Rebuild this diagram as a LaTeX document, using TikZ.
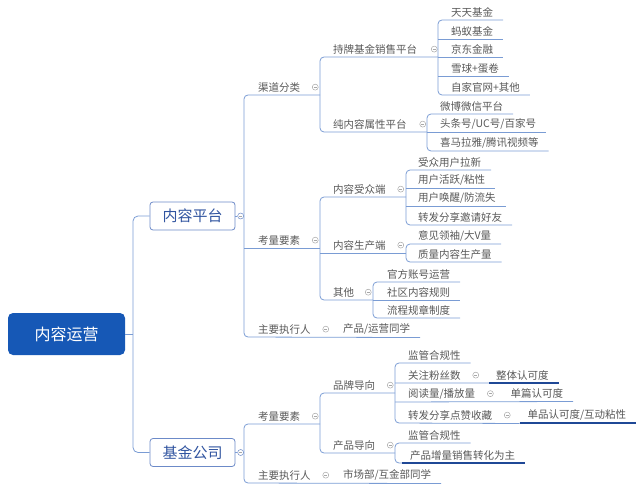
\documentclass[tikz,border=0pt]{standalone}
\usepackage{fontspec}
\setmainfont{Noto Sans CJK SC}
\usetikzlibrary{positioning}
\definecolor{linec}{RGB}{122,156,212}
\definecolor{hilinec}{RGB}{31,72,150}
\definecolor{rootc}{RGB}{22,88,182}
\definecolor{boxc}{RGB}{108,138,200}
\definecolor{boxtext}{RGB}{48,84,160}
\definecolor{textc}{RGB}{88,88,88}
\definecolor{foldc}{RGB}{168,168,168}
\tikzset{
  topic/.style={anchor=south west,inner xsep=0pt,inner ysep=3pt,outer sep=0pt,
    font=\fontsize{10.5}{12}\selectfont,text=textc},
  fold/.style={circle,draw=foldc,fill=white,line width=0.5pt,minimum size=6pt,inner sep=0pt,
    path picture={\draw[foldc,line width=0.5pt] ([xshift=-1.6pt]path picture bounding box.center)
      -- ([xshift=1.6pt]path picture bounding box.center);}},
  ln/.style={draw=linec,line width=0.8pt},
  hiline/.style={draw=hilinec,line width=2pt},
  branch/.style={draw=boxc,fill=white,rounded corners=3pt,line width=0.8pt,minimum width=85pt,
    minimum height=28pt,text=boxtext,font=\fontsize{15}{17}\selectfont}
}
\begin{document}
\begin{tikzpicture}[x=1pt,y=-1pt]
\useasboundingbox (0,0) rectangle (640,492);
% the root and the two branches
\node[fill=rootc,rounded corners=5pt,minimum width=117pt,minimum height=42pt,text=white,
  font=\fontsize{16}{18}\selectfont] (root) at (66.5,334) {内容运营};
\node[branch] (kp) at (192.5,216) {内容平台};
\node[branch] (jj) at (192.5,452.5) {基金公司};
\node[fold,draw=boxc,right=2pt of kp] (kpF) {};
\node[fold,draw=boxc,right=2pt of jj] (jjF) {};
\coordinate (rootV) at (133,334);
\draw[ln,rounded corners=5pt] (kp.west) -| (rootV) |- (jj.west);
\draw[ln] (root.east) -- (rootV);
\draw[ln] (kp.east) -- (kpF);
\draw[ln] (jj.east) -- (jjF);
% the verticals of each group
\coordinate (kpV) at (244,216);
\coordinate (qdV) at (320,95);
\coordinate (klV) at (320,248);
\coordinate (cpV) at (438,57);
\coordinate (cnV) at (427,132);
\coordinate (szV) at (406,197);
\coordinate (scV) at (406,253);
\coordinate (qtV) at (373,300);
\coordinate (jjV) at (244,452);
\coordinate (fkV) at (320,424);
\coordinate (ppV) at (395,393);
\coordinate (cdV) at (395,453);
% content platform
\node[topic] (qd) at (258,95) {渠道分类};
\node[topic] (kl) at (258,248) {考量要素};
\node[topic] (zy) at (258,337) {主要执行人};
\node[fold,right=12pt of qd] (qdF) {};
\node[fold,right=12pt of kl] (klF) {};
\node[fold,right=12pt of zy] (zyF) {};
\node[topic,right=14pt of zyF] (cy) {产品/运营同学};
\draw[ln,rounded corners=4pt] (qdV) -- (kpV |- qd.south) -- (kpV |- zy.south) -- ([xshift=10pt]cy.south east);
\draw[ln] (kpV |- kl.south) -- (klV);
% channels
\node[topic] (cp) at (333,57) {持牌基金销售平台};
\node[topic] (cn) at (333,132) {纯内容属性平台};
\node[fold,right=14pt of cp] (cpF) {};
\node[fold,right=13pt of cn] (cnF) {};
\draw[ln,rounded corners=4pt] (cpV) -- (qdV |- cp.south) -- (qdV |- cn.south) -- (cnV);
\node[topic] (tt) at (451,20) {天天基金};
\node[topic] (my) at (451,39) {蚂蚁基金};
\node[topic] (jd) at (451,57) {京东金融};
\node[topic] (xq) at (451,76) {雪球+蛋卷};
\node[topic] (zj) at (451,95) {自家官网+其他};
\draw[ln,rounded corners=4pt] ([xshift=10pt]tt.south east) -- (cpV |- tt.south) -- (cpV |- zj.south) -- ([xshift=10pt]zj.south east);
\foreach \n in {my,jd,xq}
  \draw[ln] (cpV |- \n.south) -- ([xshift=10pt]\n.south east);
\node[topic] (wb) at (440,114) {微博微信平台};
\node[topic] (tx) at (440,132) {头条号/UC号/百家号};
\node[topic] (xm) at (440,151) {喜马拉雅/腾讯视频等};
\draw[ln,rounded corners=4pt] ([xshift=10pt]wb.south east) -- (cnV |- wb.south) -- (cnV |- xm.south) -- ([xshift=10pt]xm.south east);
\draw[ln] (cnV |- tx.south) -- ([xshift=10pt]tx.south east);
% factors of the content platform
\node[topic] (sz) at (333,197) {内容受众端};
\node[topic] (sc) at (333,253) {内容生产端};
\node[topic] (qt) at (333,300) {其他};
\node[fold,right=12pt of sz] (szF) {};
\node[fold,right=12pt of sc] (scF) {};
\node[fold,right=11pt of qt] (qtF) {};
\draw[ln,rounded corners=4pt] (szV) -- (klV |- sz.south) -- (klV |- qt.south) -- (qtV);
\draw[ln] (klV |- sc.south) -- (scV);
\node[topic] (lx) at (418,170) {受众用户拉新};
\node[topic] (hy) at (418,188) {用户活跃/粘性};
\node[topic] (hx) at (418,206) {用户唤醒/防流失};
\node[topic] (zf) at (418,225) {转发分享邀请好友};
\draw[ln,rounded corners=4pt] ([xshift=10pt]lx.south east) -- (szV |- lx.south) -- (szV |- zf.south) -- ([xshift=10pt]zf.south east);
\foreach \n in {hy,hx}
  \draw[ln] (szV |- \n.south) -- ([xshift=10pt]\n.south east);
\node[topic] (yj) at (418,244) {意见领袖/大V量};
\node[topic] (zl) at (418,262) {质量内容生产量};
\draw[ln,rounded corners=4pt] ([xshift=10pt]yj.south east) -- (scV |- yj.south) -- (scV |- zl.south) -- ([xshift=10pt]zl.south east);
\node[topic] (gf) at (387,282) {官方账号运营};
\node[topic] (sq) at (387,300) {社区内容规则};
\node[topic] (lc) at (387,318) {流程规章制度};
\draw[ln,rounded corners=4pt] ([xshift=10pt]gf.south east) -- (qtV |- gf.south) -- (qtV |- lc.south) -- ([xshift=10pt]lc.south east);
\draw[ln] (qtV |- sq.south) -- ([xshift=10pt]sq.south east);
% fund company
\node[topic] (fk) at (258,424) {考量要素};
\node[topic] (fz) at (258,483) {主要执行人};
\node[fold,right=12pt of fk] (fkF) {};
\node[fold,right=12pt of fz] (fzF) {};
\node[topic,right=14pt of fzF] (sb) {市场部/互金部同学};
\draw[ln,rounded corners=4pt] (fkV) -- (jjV |- fk.south) -- (jjV |- fz.south) -- ([xshift=10pt]sb.south east);
\node[topic] (pp) at (333,393) {品牌导向};
\node[topic] (cd) at (333,453) {产品导向};
\node[fold,right=12pt of pp] (ppF) {};
\node[fold,right=12pt of cd] (cdF) {};
\draw[ln,rounded corners=4pt] (ppV) -- (fkV |- pp.south) -- (fkV |- cd.south) -- (cdV);
% brand side
\node[topic] (jg) at (408,363) {监管合规性};
\node[topic] (gz) at (408,383) {关注粉丝数};
\node[topic] (yd) at (408,402) {阅读量/播放量};
\node[topic] (zs) at (408,423) {转发分享点赞收藏};
\node[fold,right=12pt of gz] (gzF) {};
\node[fold,right=12pt of yd] (ydF) {};
\node[fold,right=12pt of zs] (zsF) {};
\node[topic,right=17pt of gzF] (zt) {整体认可度};
\node[topic,right=17pt of ydF] (dp) {单篇认可度};
\node[topic,right=17pt of zsF] (dr) {单品认可度/互动粘性};
\draw[ln,rounded corners=4pt] ([xshift=10pt]jg.south east) -- (ppV |- jg.south) -- (ppV |- zs.south) -- ([xshift=-8pt]dr.south west);
\draw[hiline] ([xshift=-8pt]dr.south west) -- ([xshift=10pt]dr.south east);
\draw[ln] (ppV |- gz.south) -- ([xshift=-7pt]zt.south west);
\draw[hiline] ([xshift=-7pt]zt.south west) -- ([xshift=10pt]zt.south east);
\draw[ln] (ppV |- yd.south) -- ([xshift=10pt]dp.south east);
% product side
\node[topic] (jh) at (408,443) {监管合规性};
\node[topic] (zh) at (410,463) {产品增量销售转化为主};
\draw[ln,rounded corners=4pt] ([xshift=10pt]jh.south east) -- (cdV |- jh.south) -- (cdV |- zh.south) -- ([xshift=-8pt]zh.south west);
\draw[hiline] ([xshift=-8pt]zh.south west) -- ([xshift=10pt]zh.south east);
\end{tikzpicture}
\end{document}
